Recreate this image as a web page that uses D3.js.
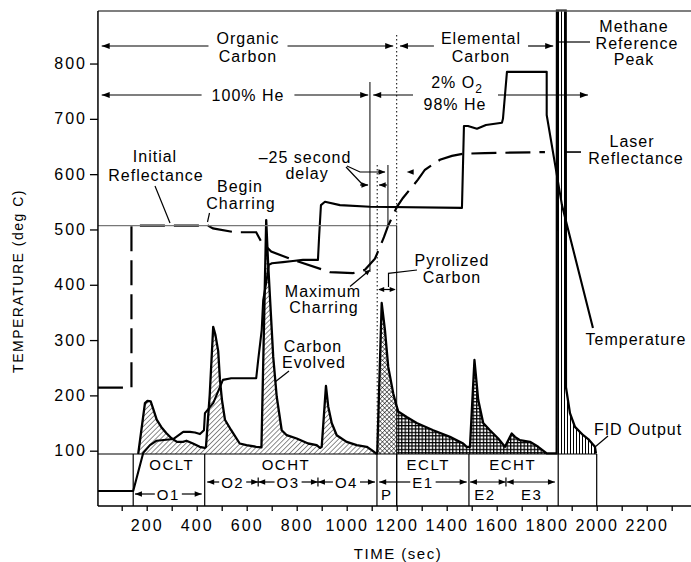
<!DOCTYPE html>
<html><head><meta charset="utf-8">
<script src="https://cdn.jsdelivr.net/npm/d3@7"></script>
<style>
body{margin:0;background:#fff;}
svg text{font-family:"Liberation Sans",Arial,Helvetica,sans-serif;font-size:16px;letter-spacing:1px;fill:#000;}
svg text.tick{font-size:16px;letter-spacing:2px;}
svg text.box{font-size:15px;letter-spacing:1.5px;}
</style></head><body>
<svg id="c" width="691" height="562" xmlns="http://www.w3.org/2000/svg"></svg>
<script>
// ---------------- data ----------------
const xTicks = d3.range(100, 2301, 100);
const xTickLabels = [200,400,600,800,1000,1200,1400,1600,1800,2000,2200];
const yTickLabels = [100,200,300,400,500,600,700,800];
const baseline = 94;        // FID baseline (deg C scale)
const referenceLevel = 507; // initial reflectance level

// temperature (time s, deg C)
const temperature = [[5,27],[146,27],[186,96],[213,110],[240,118],[306,121],[346,134],[373,134],[393,133],[413,130],[429,137],[433,168],[466,186],[505,228],[538,231],[638,231],[646,264],[660,318],[666,372],[680,409],[688,436],[701,439],[745,441],[785,443],[825,445],[885,445],[890,490],[897,544],[913,550],[973,544],[1093,541],[1461,539],[1469,687],[1485,687],[1521,682],[1557,689],[1621,693],[1625,700],[1641,785],[1800,785],[1800,707],[1861,544],[1985,322]];

// laser reflectance (time s, scaled)
const laser = [[5,214],[139,214],[139,507],[445,507],[465,502],[552,495],[638,495],[658,478],[698,460],[785,445],[933,423],[1025,421],[1073,427],[1113,447],[1149,486],[1165,506],[1201,541],[1225,557],[1285,590],[1313,608],[1373,626],[1421,633],[1465,637],[1553,638],[1793,640]];

// FID output (time s, scaled)
const fid = [[166,94],[193,186],[203,190],[216,189],[225,177],[240,156],[258,143],[278,132],[298,123],[321,116],[345,116],[359,118],[385,113],[412,107],[432,105],[437,107],[452,200],[466,324],[475,309],[486,280],[493,228],[501,192],[513,156],[538,137],[572,113],[599,110],[638,107],[659,106],[678,517],[685,445],[693,378],[706,270],[720,198],[740,137],[760,128],[800,122],[846,113],[880,110],[893,105],[900,107],[917,217],[926,180],[940,150],[960,128],[1000,116],[1040,110],[1080,107],[1100,101],[1117,95],[1122,95],[1140,367],[1153,318],[1166,252],[1186,204],[1200,180],[1206,171],[1240,161],[1280,150],[1346,137],[1413,125],[1466,113],[1480,107],[1493,107],[1511,264],[1526,192],[1546,150],[1573,137],[1606,122],[1633,107],[1660,131],[1673,125],[1693,119],[1733,116],[1766,107],[1800,95],[1840,95],[1841,897],[1876,897],[1877,215],[1893,168],[1913,143],[1946,128],[1966,121],[1993,107],[1997,95]];

// fill regions of the FID trace
const regions = [
  {t0:0,    t1:1121, pattern:"diag"},
  {t0:1121, t1:1200, pattern:"cross"},
  {t0:1200, t1:1840, pattern:"grid"},
  {t0:1840, t1:2000, pattern:"vert"}
];

// analysis boxes below the baseline
const boxEdges = [146, 432, 1121, 1200, 1489, 1846, 2000];
const phaseLabels = [{label:"OCLT", t:300}, {label:"OCHT", t:757}, {label:"ECLT", t:1326}, {label:"ECHT", t:1664}];
const peakRow1 = [{label:"O2", t0:442, t1:646}, {label:"O3", t0:646, t1:885}, {label:"O4", t0:885, t1:1113},
                  {label:"E1", t0:1130, t1:1480}, {label:"", t0:1493, t1:1636}, {label:"", t0:1640, t1:1833}];
const peakRow2 = [{label:"O1", t0:153, t1:420}];
const peakRowSep = [646, 885, 1637];
const lowerLabels = [{label:"P", t:1160}, {label:"E2", t:1553}, {label:"E3", t:1740}];

// event times
const heEnd = 1093, pStart = 1122, delayLine = 1165, eStart = 1200, fidEnd = 2000;

// ---------------- chart ----------------
const svg = d3.select("#c");
const W = 691, H = 562;
const x = d3.scaleLinear().domain([0, 2300]).range([96.7, 671.7]);
const y = d3.scaleLinear().domain([0, 895]).range([506, 11]);
const L = x(5), T = y(895), B = y(0);

const defs = svg.append("defs");
function pat(id, w, h, rot, draw){
  const p = defs.append("pattern").attr("id", id).attr("patternUnits","userSpaceOnUse")
    .attr("width", w).attr("height", h);
  if (rot) p.attr("patternTransform", `rotate(${rot})`);
  draw(p);
}
pat("diag", 3.5, 3.5, 45, p => p.append("line").attr("x1",0).attr("y1",-1).attr("x2",0).attr("y2",5).attr("stroke","#000").attr("stroke-width",0.9));
pat("cross", 3.2, 3.2, 45, p => {
  p.append("line").attr("x1",0).attr("y1",-1).attr("x2",0).attr("y2",5).attr("stroke","#000").attr("stroke-width",1);
  p.append("line").attr("x1",-1).attr("y1",0).attr("x2",5).attr("y2",0).attr("stroke","#000").attr("stroke-width",1);
});
pat("grid", 3.4, 3.4, 0, p => {
  p.append("line").attr("x1",0.6).attr("y1",-1).attr("x2",0.6).attr("y2",5).attr("stroke","#000").attr("stroke-width",1.25);
  p.append("line").attr("x1",-1).attr("y1",0.6).attr("x2",5).attr("y2",0.6).attr("stroke","#000").attr("stroke-width",1.25);
});
pat("vert", 3, 3, 0, p => p.append("line").attr("x1",0.5).attr("y1",-1).attr("x2",0.5).attr("y2",4).attr("stroke","#000").attr("stroke-width",1));

defs.append("clipPath").attr("id","plotclip").append("rect").attr("x",L).attr("y",T-1.5).attr("width",W-L).attr("height",B-T+1.5);
regions.forEach((r,i) => {
  defs.append("clipPath").attr("id","rc"+i).append("rect")
    .attr("x", x(r.t0)).attr("y", 0).attr("width", x(r.t1)-x(r.t0)).attr("height", H);
});

const plot = svg.append("g").attr("clip-path","url(#plotclip)");

// FID fills
const area = d3.area().x(d => x(d[0])).y0(y(baseline)).y1(d => y(d[1]));
regions.forEach((r,i) => {
  plot.append("path").datum(fid).attr("d", area)
    .attr("fill", `url(#${r.pattern})`).attr("clip-path", `url(#rc${i})`);
});

const line = d3.line().x(d => x(d[0])).y(d => y(d[1]));

// reference line (gray)
svg.append("line").attr("x1", L).attr("x2", x(eStart)).attr("y1", y(referenceLevel)).attr("y2", y(referenceLevel))
  .attr("stroke","#777").attr("stroke-width",1.2);

// vertical event lines
function vline(t, y1, y2, dash, w){
  svg.append("line").attr("x1", x(t)).attr("x2", x(t)).attr("y1", y1).attr("y2", y2)
    .attr("stroke","#000").attr("stroke-width", w||1).attr("stroke-dasharray", dash||null);
}
vline(heEnd, 82, 272);
vline(pStart, 165, y(baseline), "1.5,2.5");
vline(delayLine, 165, y(referenceLevel));
vline(eStart, 35, y(referenceLevel), "1.5,2.5");
vline(eStart, y(referenceLevel), B);

// box grid
svg.append("line").attr("x1", L).attr("x2", x(fidEnd)).attr("y1", y(baseline)).attr("y2", y(baseline)).attr("stroke","#000").attr("stroke-width",1.2);
boxEdges.forEach(t => vline(t, y(baseline), B, null, 1.2));

// FID line
plot.append("path").datum(fid).attr("d", line).attr("fill","none").attr("stroke","#000")
  .attr("stroke-width",2.3).attr("stroke-linejoin","round");

// laser reflectance (dashed)
plot.append("path").datum(laser).attr("d", line).attr("fill","none").attr("stroke","#000")
  .attr("stroke-width",2.2).attr("stroke-dasharray","25,9");

// temperature
plot.append("path").datum(temperature).attr("d", line).attr("fill","none").attr("stroke","#000")
  .attr("stroke-width",2.1).attr("stroke-linejoin","round");

// frame
svg.append("line").attr("x1", L).attr("x2", W).attr("y1", T).attr("y2", T).attr("stroke","#555").attr("stroke-width",1.3);
svg.append("line").attr("x1", L).attr("x2", L).attr("y1", T).attr("y2", B).attr("stroke","#000").attr("stroke-width",1.5);
svg.append("line").attr("x1", L).attr("x2", W).attr("y1", B).attr("y2", B).attr("stroke","#000").attr("stroke-width",1.5);

// axes
const gy = svg.append("g").attr("transform", `translate(${L},0)`)
  .call(d3.axisLeft(y).tickValues(yTickLabels).tickSize(8).tickPadding(3).tickSizeOuter(0));
gy.select(".domain").remove();
gy.selectAll("line").attr("stroke-width",1.3);
gy.selectAll("text").attr("class","tick");

const gx = svg.append("g").attr("transform", `translate(0,${B})`)
  .call(d3.axisBottom(x).tickValues(xTicks).tickSize(5).tickPadding(8.5).tickSizeOuter(0)
    .tickFormat(d => xTickLabels.includes(d) ? d : ""));
gx.select(".domain").remove();
gx.selectAll("line").attr("stroke-width",1.3);
gx.selectAll("text").attr("class","tick");

svg.append("text").attr("transform","translate(19,281) rotate(-90)").attr("text-anchor","middle")
  .attr("dominant-baseline","middle").style("font-size","14px").style("letter-spacing","1.5px").text("TEMPERATURE (deg C)");
svg.append("text").attr("x", 398).attr("y", 559).attr("text-anchor","middle")
  .style("font-size","15px").style("letter-spacing","1.5px").text("TIME (sec)");

// ---------------- annotation helpers ----------------
function head(xt, yt, ang, len, hw){
  len = len || 8; hw = hw || 3;
  const c = Math.cos(ang), s = Math.sin(ang);
  const bx = xt - len*c, by = yt - len*s;
  svg.append("path").attr("d", `M${xt},${yt}L${bx - hw*s},${by + hw*c}L${bx + hw*s},${by - hw*c}Z`).attr("fill","#000");
}
function seg(x1,y1,x2,y2,w){
  svg.append("line").attr("x1",x1).attr("y1",y1).attr("x2",x2).attr("y2",y2).attr("stroke","#000").attr("stroke-width",w||1.2);
}
function poly(pts,w){
  svg.append("path").attr("d", d3.line()(pts)).attr("fill","none").attr("stroke","#000").attr("stroke-width",w||1.2);
}
function txt(s, cx, by, cls){
  const t = svg.append("text").attr("x",cx).attr("y",by).attr("text-anchor","middle").text(s);
  if (cls) t.attr("class", cls);
  return t;
}
function topArrow(x1, x2, yy, cx, lines, gap){
  let w = 0;
  lines.forEach(([s, by]) => { const t = txt(s, cx, by); w = Math.max(w, t.node().getComputedTextLength()); });
  seg(x1, yy, cx - w/2 - gap, yy);
  seg(cx + w/2 + gap, yy, x2, yy);
  head(x1, yy, Math.PI); head(x2, yy, 0);
}

// Organic / Elemental carbon
topArrow(x(20), x(1186), 46, 248, [["Organic",44],["Carbon",62]], 8);
topArrow(x(1213), x(1826), 46, 481, [["Elemental",44],["Carbon",62]], 7);
// 100% He
topArrow(x(20), x(1086), 95, 248, [["100% He",101]], 10);
// 2% O2 / 98% He
{
  const t1 = svg.append("text").attr("x", 457).attr("y", 88).attr("text-anchor","middle");
  t1.append("tspan").text("2% O");
  t1.append("tspan").attr("dy",5).style("font-size","12px").text("2");
  txt("98% He", 455, 110);
  seg(x(1106), 95, 413, 95); head(x(1106), 95, Math.PI);
  seg(498, 95, x(1965), 95); head(x(1965), 95, 0);
}

// Methane reference peak
txt("Methane", 634, 32); txt("Reference", 637, 49); txt("Peak", 634, 65);
seg(559, 42, 590, 42);
// Laser reflectance
txt("Laser", 632, 147); txt("Reflectance", 636, 164);
seg(565, y(640), 581, y(640), 1.6);
// Temperature
txt("Temperature", 636, 345);
// FID Output
txt("FID Output", 638, 435);
seg(595, 447, 608, 436);

// Initial reflectance
txt("Initial", 155, 162); txt("Reflectance", 156, 181);
seg(155, 186, 170, 223);
// Begin charring
txt("Begin", 240, 192); txt("Charring", 241, 209);
seg(209.5, 213, 207.5, 222);

// -25 second delay
txt("\u201325 second", 305, 163); txt("delay", 307, 179);
poly([[347,166],[360,172],[x(delayLine)-3,172]]);
head(x(delayLine)-2.5, 172, 0, 7, 2.8);
head(x(eStart)+10, 172, Math.PI, 7, 2.8);
poly([[346,167],[363,185]]);
seg(360,185,x(heEnd)-2,185);
head(x(heEnd)-1.5, 185, 0, 7, 2.8);
seg(x(pStart)+2, 185, x(delayLine)-1, 185);
head(x(pStart)+1.5, 185, Math.PI, 7, 2.8);

// Pyrolized carbon
txt("Pyrolized", 452, 266); txt("Carbon", 452, 283);
poly([[417,270],[388.5,273.3],[388.5,287]]);
seg(x(pStart)+2, 289.5, x(eStart)-2, 289.5);
head(x(pStart)+1, 289.5, Math.PI, 6, 2.6); head(x(eStart)-1, 289.5, 0, 6, 2.6);

// Maximum charring
txt("Maximum", 323, 297); txt("Charring", 324, 313);
seg(350, 286.5, 368, 271.5);
head(370.5, 269.5, -Math.PI*0.22, 6, 2.5);

// Carbon evolved
txt("Carbon", 313, 352); txt("Evolved", 314, 368);
seg(289, 371, 275, 382);

// ---------------- box labels ----------------
phaseLabels.forEach(d => txt(d.label, x(d.t), 470, "box"));
function rowArrow(d, yy){
  let w = 0;
  const cx = (x(d.t0)+x(d.t1))/2;
  if (d.label){ const t = txt(d.label, cx, yy+5.5, "box"); w = t.node().getComputedTextLength() + 4; }
  if (w > 0){ seg(x(d.t0), yy, cx - w/2, yy); seg(cx + w/2, yy, x(d.t1), yy); }
  else seg(x(d.t0), yy, x(d.t1), yy);
  head(x(d.t0), yy, Math.PI, 7, 2.8); head(x(d.t1), yy, 0, 7, 2.8);
}
peakRow1.forEach(d => rowArrow(d, 482));
peakRow2.forEach(d => rowArrow(d, 494));
peakRowSep.forEach(t => seg(x(t), 477.5, x(t), 486.5, 1.2));
lowerLabels.forEach(d => txt(d.label, x(d.t), 500, "box"));
</script></body></html>
